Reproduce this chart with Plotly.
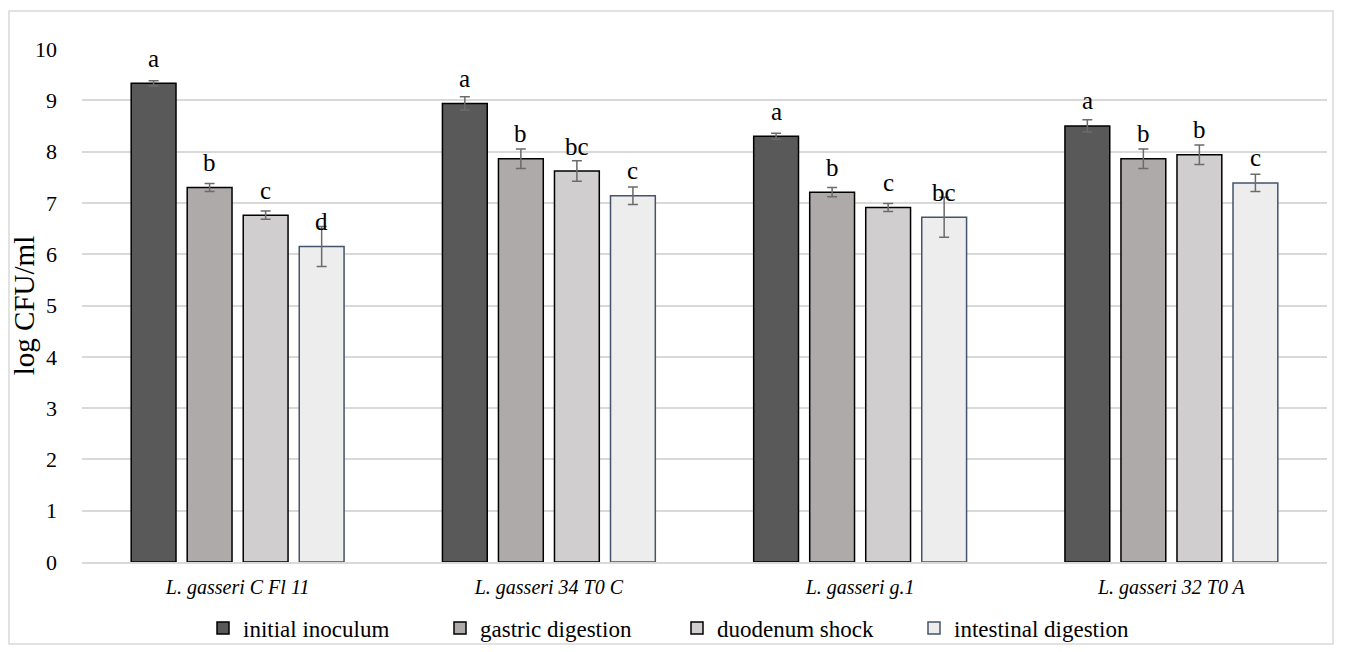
import plotly.graph_objects as go

strains = ["L. gasseri C Fl 11", "L. gasseri 34 T0 C", "L. gasseri g.1", "L. gasseri 32 T0 A"]
series_names = ["initial inoculum", "gastric digestion", "duodenum shock", "intestinal digestion"]

initial = [9.33, 8.94, 8.30, 8.50]
gastric = [7.30, 7.86, 7.21, 7.86]
duodenum = [6.76, 7.62, 6.91, 7.94]
intestinal = [6.15, 7.14, 6.72, 7.39]

err_initial = [0.05, 0.13, 0.06, 0.12]
err_gastric = [0.08, 0.19, 0.09, 0.19]
err_duodenum = [0.08, 0.20, 0.08, 0.19]
err_intestinal = [0.39, 0.17, 0.39, 0.17]

letters_initial = ["a", "a", "a", "a"]
letters_gastric = ["b", "b", "b", "b"]
letters_duodenum = ["c", "bc", "c", "b"]
letters_intestinal = ["d", "c", "bc", "c"]

values = [initial, gastric, duodenum, intestinal]
errors = [err_initial, err_gastric, err_duodenum, err_intestinal]
letters = [letters_initial, letters_gastric, letters_duodenum, letters_intestinal]
fills = ["#595959", "#AEAAAA", "#D0CECE", "#EDEDED"]
borders = ["#000000", "#000000", "#000000", "#44546A"]

FONT = "Liberation Serif, 'Times New Roman', serif"
BARGAP = 0.28

# page has an 8px body margin; plot area in figure coordinates
L, T = 74, 41
PW, PH = 1245, 513

fig = go.Figure()
for name, vals, errs, fc, bc in zip(series_names, values, errors, fills, borders):
    fig.add_trace(go.Bar(
        name=name, x=strains, y=vals,
        marker=dict(color=fc, line=dict(color=bc, width=1.5)),
        error_y=dict(type="data", array=errs, visible=True, color="#6b6b6b", thickness=1.5, width=5),
    ))

offsets = [-1.5, -0.5, 0.5, 1.5]
slot = (1 - BARGAP) / 4
annotations = []
for k, (vals, lets) in enumerate(zip(values, letters)):
    for i in range(len(strains)):
        annotations.append(dict(
            x=i + offsets[k] * slot, y=vals[i], xref="x", yref="y",
            text=lets[i], showarrow=False, yanchor="middle", yshift=25,
            font=dict(family=FONT, size=25, color="#000000"),
        ))

fig.update_layout(
    barmode="group", bargap=BARGAP, bargroupgap=0.2,
    width=1345, height=652,
    margin=dict(l=L, r=1345 - L - PW, t=T, b=652 - T - PH, autoexpand=False),
    paper_bgcolor="white", plot_bgcolor="white",
    font=dict(family=FONT, color="#000000"),
    annotations=annotations,
    showlegend=True,
    legend=dict(orientation="h", x=(195 - L) / PW, xanchor="left", y=-0.087, yanchor="top",
                font=dict(family=FONT, size=23, color="#000000"),
                bgcolor="rgba(0,0,0,0)",
                entrywidth=192, entrywidthmode="pixels", traceorder="normal",
                itemwidth=30),
    xaxis=dict(
        type="category", showgrid=False, showline=True, linecolor="#D9D9D9", linewidth=1.5,
        ticks="", automargin=False,
        tickfont=dict(family=FONT, size=20, style="italic", color="#000000"),
        ticklabelstandoff=6,
    ),
    yaxis=dict(
        range=[0, 10], dtick=1, showgrid=True, gridcolor="#D9D9D9", gridwidth=1.5,
        showline=False, zeroline=False, ticks="", automargin=False,
        tickfont=dict(family=FONT, size=22, color="#000000"),
        ticklabelstandoff=24,
        title=dict(text="log CFU/ml", font=dict(family=FONT, size=29, color="#000000"), standoff=2),
    ),
    shapes=[dict(type="rect", xref="paper", yref="paper",
                 x0=(1 - L) / PW, x1=(1325 - L) / PW,
                 y0=(T + PH - 636) / PH, y1=(T + PH - 3) / PH,
                 line=dict(color="#D9D9D9", width=1.5), fillcolor="rgba(0,0,0,0)", layer="below")],
)

fig.write_html("out.html")
